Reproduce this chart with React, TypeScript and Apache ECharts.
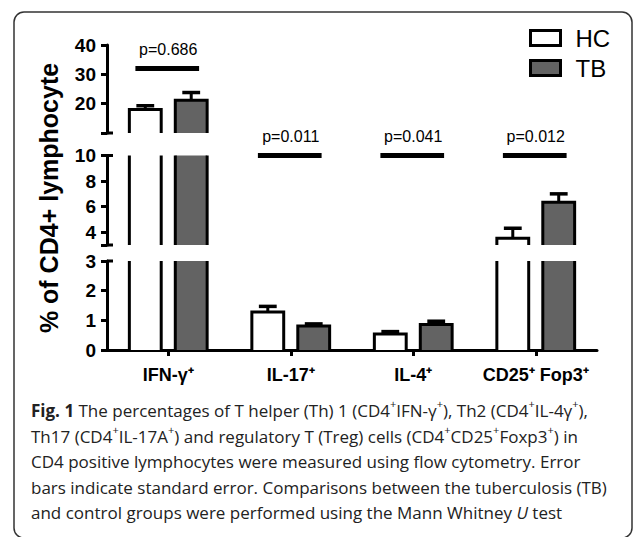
import React, { useEffect, useRef } from "react";
import * as echarts from "echarts";

// ---- data ----
const categories = ["IFN-γ⁺", "IL-17⁺", "IL-4⁺", "CD25⁺ Fop3⁺"];
const hcValues = [18.0, 1.28, 0.54, 3.53];
const hcErrors = [1.3, 0.19, 0.08, 0.78];
const tbValues = [21.2, 0.81, 0.86, 6.34];
const tbErrors = [2.6, 0.07, 0.11, 0.66];
const pLabels = ["p=0.686", "p=0.011", "p=0.041", "p=0.012"];
const pLineValues = [32, 10, 10, 10];
// broken y axis segments (top -> bottom)
const segMins = [10, 3, 0];
const segMaxs = [40, 10, 3];
const topTicks = [10, 20, 30, 40];
const midTickValues = [3, 4, 6, 8, 10];
const midLabelValues = [4, 6, 8, 10];
const bottomTicks = [0, 1, 2, 3];

const captionLines = [
  "{b|Fig. 1} The percentages of T helper (Th) 1 (CD4{s|+}IFN-γ{s|+}), Th2 (CD4{s|+}IL-4γ{s|+}),",
  "Th17 (CD4{s|+}IL-17A{s|+}) and regulatory T (Treg) cells (CD4{s|+}CD25{s|+}Foxp3{s|+}) in",
  "CD4 positive lymphocytes were measured using flow cytometry. Error",
  "bars indicate standard error. Comparisons between the tuberculosis (TB)",
  "and control groups were performed using the Mann Whitney {i|U} test",
];

// ---- layout ----
const GRID_LEFT = 107;
const GRID_WIDTH = 490;
const grids = [
  { top: 45, height: 88 },
  { top: 155.5, height: 89.5 },
  { top: 261, height: 89 },
];
const FONT = "Liberation Sans, Arial, sans-serif";
const TB_COLOR = "#636363";

function barSeries(seg: number, group: number, name: string, values: number[], errors: number[], color: string) {
  const lo = segMins[seg];
  const hi = segMaxs[seg];
  return {
    type: "custom",
    name,
    xAxisIndex: seg,
    yAxisIndex: seg,
    data: values.map((v, i) => [i, v, errors[i]]),
    renderItem: (params: any, api: any) => {
      const i = api.value(0);
      const v = api.value(1);
      const e = api.value(2);
      if (v <= lo) return null;
      const top = Math.min(v, hi);
      const clipped = v > hi;
      const band = api.size([1, 0])[0];
      const w = band * 0.26;
      const gap = band * 0.115;
      const base = api.coord([i, lo]);
      const x0 = group === 0 ? base[0] - gap / 2 - w : base[0] + gap / 2;
      const yb = base[1];
      const yt = api.coord([i, top])[1];
      const children: any[] = [
        { type: "rect", shape: { x: x0, y: yt, width: w, height: yb - yt }, style: { fill: color, stroke: null } },
      ];
      if (clipped) {
        children.push({ type: "line", shape: { x1: x0, y1: yb, x2: x0, y2: yt }, style: { stroke: "#000", lineWidth: 3 } });
        children.push({ type: "line", shape: { x1: x0 + w, y1: yb, x2: x0 + w, y2: yt }, style: { stroke: "#000", lineWidth: 3 } });
      } else {
        const ye = api.coord([i, Math.min(v + e, hi)])[1];
        const cx = x0 + w / 2;
        const capW = w * 0.56;
        children.push({ type: "line", shape: { x1: cx, y1: yt, x2: cx, y2: ye }, style: { stroke: "#000", lineWidth: 3 } });
        children.push({ type: "line", shape: { x1: cx - capW / 2, y1: ye, x2: cx + capW / 2, y2: ye }, style: { stroke: "#000", lineWidth: 3.5 } });
        children.push({
          type: "polyline",
          shape: { points: [[x0, yb], [x0, yt], [x0 + w, yt], [x0 + w, yb]] },
          style: { fill: null, stroke: "#000", lineWidth: 3, lineJoin: "miter" },
        });
      }
      return { type: "group", children };
    },
  };
}

function pSeries(seg: number) {
  const lo = segMins[seg];
  const hi = segMaxs[seg];
  return {
    type: "custom",
    name: "p" + seg,
    xAxisIndex: seg,
    yAxisIndex: seg,
    data: pLineValues.map((v, i) => [i, v]),
    renderItem: (params: any, api: any) => {
      const i = api.value(0);
      const v = api.value(1);
      if (!(v > lo && v <= hi)) return null;
      const band = api.size([1, 0])[0];
      const half = band * 0.26;
      const p = api.coord([i, v]);
      const cx = p[0] - 1;
      return {
        type: "group",
        children: [
          { type: "line", shape: { x1: cx - half, y1: p[1], x2: cx + half, y2: p[1] }, style: { stroke: "#000", lineWidth: 5 } },
          {
            type: "text",
            style: {
              text: pLabels[i],
              x: cx + 1,
              y: p[1] - 11,
              align: "center",
              verticalAlign: "bottom",
              fontSize: 16,
              fontFamily: FONT,
              fill: "#000",
            },
          },
        ],
      };
    },
  };
}

export default function App() {
  const ref = useRef<HTMLDivElement>(null);
  useEffect(() => {
    if (!ref.current) return;
    const chart = echarts.init(ref.current, undefined, { renderer: "svg" });
    const axisLabelBase = { fontSize: 19, fontWeight: "bold", fontFamily: FONT, color: "#000", margin: 11 };
    const axisLineBase = { show: true, lineStyle: { color: "#000", width: 3 } };
    const axisTickBase = { show: true, length: 6, lineStyle: { color: "#000", width: 3 } };

    const xAxes = grids.map((g, k) => ({
      type: "category",
      gridIndex: k,
      data: categories,
      show: k === 2,
      boundaryGap: true,
      axisLine: axisLineBase,
      axisTick: { ...axisTickBase, alignWithLabel: true, interval: 0 },
      axisLabel: { ...axisLabelBase, fontSize: 18, margin: 16, interval: 0, hideOverlap: false },
      splitLine: { show: false },
    }));

    const yAxes = [
      {
        type: "value",
        gridIndex: 0,
        min: segMins[0],
        max: segMaxs[0],
        interval: topTicks[1] - topTicks[0],
        axisLine: axisLineBase,
        axisTick: axisTickBase,
        axisLabel: { ...axisLabelBase, formatter: (v: number) => (v === segMins[0] ? "" : String(v)) },
        splitLine: { show: false },
      },
      {
        type: "value",
        gridIndex: 1,
        min: segMins[1],
        max: segMaxs[1],
        axisLine: axisLineBase,
        axisTick: { ...axisTickBase, customValues: midTickValues },
        axisLabel: { ...axisLabelBase, customValues: midLabelValues },
        splitLine: { show: false },
      },
      {
        type: "value",
        gridIndex: 2,
        min: segMins[2],
        max: segMaxs[2],
        interval: bottomTicks[1] - bottomTicks[0],
        axisLine: axisLineBase,
        axisTick: axisTickBase,
        axisLabel: axisLabelBase,
        splitLine: { show: false },
      },
    ];

    const series: any[] = [];
    for (let s = 0; s < 3; s++) {
      series.push(barSeries(s, 0, "HC", hcValues, hcErrors, "#ffffff"));
      series.push(barSeries(s, 1, "TB", tbValues, tbErrors, TB_COLOR));
      series.push(pSeries(s));
    }

    // break caps (right-hand half of the T marks on the broken axis)
    const capYs = [grids[0].top + grids[0].height, grids[1].top, grids[1].top + grids[1].height, grids[2].top];
    const caps = capYs.map((y) => ({
      type: "line",
      shape: { x1: GRID_LEFT, y1: y, x2: GRID_LEFT + 6, y2: y },
      style: { stroke: "#000", lineWidth: 3 },
    }));

    chart.setOption({
      animation: false,
      backgroundColor: "#ffffff",
      grid: grids.map((g) => ({ left: GRID_LEFT, width: GRID_WIDTH, top: g.top, height: g.height })),
      xAxis: xAxes,
      yAxis: yAxes,
      legend: {
        orient: "vertical",
        left: 529,
        top: 26,
        padding: 0,
        itemWidth: 30,
        itemHeight: 15,
        itemGap: 6,
        selectedMode: false,
        data: [
          { name: "HC", icon: "rect", itemStyle: { color: "#ffffff", borderColor: "#000", borderWidth: 3 } },
          { name: "TB", icon: "rect", itemStyle: { color: TB_COLOR, borderColor: "#000", borderWidth: 3 } },
        ],
        textStyle: { fontSize: 24, fontFamily: FONT, color: "#000", padding: [0, 0, 0, 10] },
      },
      tooltip: { show: false },
      series,
      graphic: [
        {
          type: "rect",
          shape: { x: 14, y: 12, width: 618, height: 526, r: 10 },
          style: { fill: "none", stroke: "#333", lineWidth: 1.5 },
          z: -1,
        },
        ...caps,
        {
          type: "text",
          x: 49,
          y: 198,
          rotation: Math.PI / 2,
          style: {
            text: "% of CD4+ lymphocyte",
            fontSize: 25,
            fontWeight: "bold",
            fontFamily: FONT,
            fill: "#000",
            align: "center",
            verticalAlign: "middle",
          },
        },
        {
          type: "text",
          x: 31,
          y: 398,
          style: {
            text: captionLines.join("\n"),
            fontSize: 17,
            fontFamily: "Open Sans, sans-serif",
            fill: "#222",
            lineHeight: 25.5,
            align: "left",
            verticalAlign: "top",
            rich: {
              b: { fontSize: 17, fontWeight: "bold", fontFamily: "Open Sans, sans-serif", fill: "#222", lineHeight: 25.5 },
              s: { fontSize: 11, fontFamily: "Open Sans, sans-serif", fill: "#222", verticalAlign: "top", lineHeight: 16 },
              i: { fontSize: 17, fontStyle: "italic", fontFamily: "Open Sans, sans-serif", fill: "#222", lineHeight: 25.5 },
            },
          },
        },
      ],
    });
    return () => chart.dispose();
  }, []);
  return (
    <div
      ref={ref}
      style={{ position: "absolute", left: 0, top: 0, width: 633, height: 537, background: "#fff" }}
    />
  );
}
